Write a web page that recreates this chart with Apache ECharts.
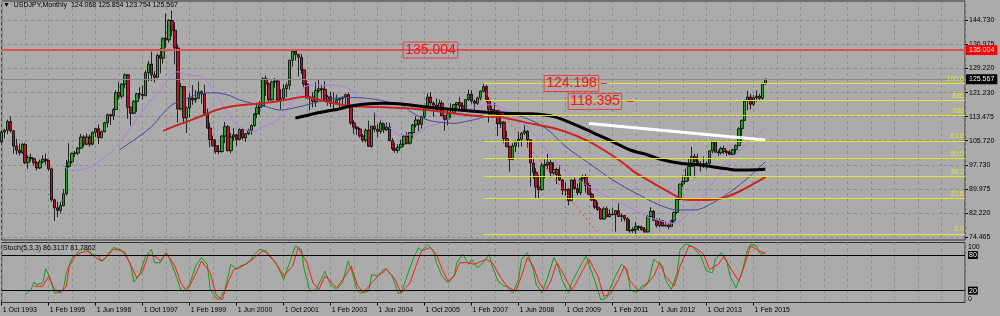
<!DOCTYPE html>
<html>
<head>
<meta charset="utf-8">
<script src="https://cdn.jsdelivr.net/npm/echarts@6/dist/echarts.min.js"></script>
<style>
html,body{margin:0;padding:0;background:#ababab;}
#chart{width:1000px;height:316px;}
</style>
</head>
<body>
<div id="chart"></div>
<script>
// ---- tick labels ----
const yTicks = [74.465, 82.220, 89.975, 97.730, 105.720, 113.475, 121.230, 129.220, 136.975, 144.730];
const monthNames = ['Jan','Feb','Mar','Apr','May','Jun','Jul','Aug','Sep','Oct','Nov','Dec'];
const firstYear = 1993, firstMonth = 9, slotCount = 329;

// ---- monthly candles [open, close, low, high] ----
const y1993 = [[105.3,108.5,105.0,109.0],[108.5,109.1,106.5,109.5],[109.1,111.9,107.8,112.5]];
const y1994 = [[111.9,108.9,108.3,113.6],[108.9,104.0,101.5,109.1],[104.0,102.6,101.2,106.3],[102.6,101.8,101.0,104.8],[101.8,104.5,101.5,105.0],[104.5,98.6,98.2,105.0],[98.6,100.3,96.6,101.0],[100.3,99.9,99.0,101.5],[99.9,98.6,97.8,100.2],[98.6,96.9,96.1,99.1],[96.9,98.9,96.5,99.6],[98.9,99.7,98.3,101.0]];
const y1995 = [[99.7,99.3,98.0,101.5],[99.3,96.6,96.0,99.6],[96.6,86.6,86.0,97.0],[86.6,84.0,79.75,87.0],[84.0,83.2,81.0,86.0],[83.2,84.7,82.2,86.0],[84.7,88.5,84.5,90.0],[88.5,97.4,88.0,99.5],[97.4,98.9,97.0,104.9],[98.9,101.6,98.3,101.9],[101.6,101.7,100.5,102.4],[101.7,103.3,101.0,103.6]];
const y1996 = [[103.3,106.9,103.0,107.9],[106.9,104.6,103.6,107.5],[104.6,106.9,104.2,108.0],[106.9,104.6,103.8,107.7],[104.6,108.4,104.2,108.7],[108.4,109.6,106.9,109.8],[109.6,106.7,104.6,111.0],[106.7,108.6,106.4,109.0],[108.6,111.5,108.4,111.8],[111.5,114.1,110.0,114.5],[114.1,113.7,110.8,114.4],[113.7,115.8,112.4,116.2]];
const y1997 = [[115.8,121.2,115.8,122.0],[121.2,120.1,119.0,124.7],[120.1,124.0,119.3,124.3],[124.0,127.0,122.6,127.5],[127.0,116.5,112.8,127.2],[116.5,114.6,110.6,116.7],[114.6,118.4,114.3,118.8],[118.4,120.9,115.0,121.2],[120.9,120.7,119.3,123.0],[120.7,120.3,119.0,123.6],[120.3,127.7,120.0,128.4],[127.7,130.5,124.9,131.5]];
const y1998 = [[130.5,127.0,125.0,134.5],[127.0,126.2,124.6,128.2],[126.2,133.3,125.9,133.9],[133.3,132.4,127.5,135.6],[132.4,138.8,130.6,139.0],[138.8,138.3,135.8,146.8],[138.3,144.6,137.4,145.0],[144.6,141.4,139.5,147.66],[141.4,135.7,130.4,144.0],[135.7,116.0,111.6,136.8],[116.0,123.2,115.4,124.3],[123.2,113.1,111.6,123.3]];
const y1999 = [[113.1,116.3,108.2,116.7],[116.3,119.5,113.3,121.0],[119.5,118.9,117.3,123.7],[118.9,119.4,117.9,122.1],[119.4,121.5,119.2,124.8],[121.5,120.8,117.7,122.0],[120.8,114.6,114.0,123.8],[114.6,109.8,109.6,116.1],[109.8,106.1,103.6,111.5],[106.1,104.1,103.8,107.3],[104.1,102.2,101.5,106.1],[102.3,102.2,101.3,104.3]];
const y2000 = [[102.2,107.2,101.8,107.5],[107.2,110.2,104.9,111.8],[110.2,102.5,102.2,110.8],[102.5,106.9,101.6,108.2],[106.9,107.6,105.6,109.8],[107.6,106.1,104.0,107.8],[106.1,109.3,105.8,109.7],[109.3,106.6,106.0,109.7],[106.6,108.0,105.3,108.2],[108.0,109.1,107.5,109.6],[109.1,110.6,107.7,111.0],[110.6,114.4,110.2,114.6]];
const y2001 = [[114.4,116.4,113.0,118.0],[116.4,117.0,114.0,118.6],[117.0,125.7,116.8,126.2],[125.7,124.1,120.2,126.8],[124.1,118.9,118.4,124.5],[118.9,124.7,118.7,125.1],[124.7,125.0,122.8,126.0],[125.0,118.8,118.4,125.3],[118.8,119.4,115.8,122.3],[119.4,122.5,119.0,124.0],[122.5,123.6,119.8,124.5],[123.6,131.7,122.2,131.8]];
const y2002 = [[131.7,134.7,129.7,135.2],[134.7,133.5,131.6,135.0],[133.5,132.7,126.5,133.9],[132.7,128.6,127.3,133.8],[128.6,124.0,123.0,128.7],[124.0,119.6,119.2,125.2],[119.6,119.8,115.5,120.1],[119.8,118.4,116.4,121.4],[118.4,121.9,116.6,124.6],[121.9,122.5,121.1,125.6],[122.5,122.3,119.2,123.8],[122.3,118.7,118.3,125.0]];
const y2003 = [[118.7,119.9,117.0,120.5],[119.9,117.8,116.5,121.5],[117.8,118.0,115.9,121.3],[118.0,119.0,117.6,120.6],[119.0,119.3,115.7,119.5],[119.3,119.8,116.6,120.0],[119.8,120.6,116.9,120.9],[120.6,116.9,116.5,121.3],[116.9,111.4,110.8,117.2],[111.4,110.1,107.9,112.3],[110.1,109.5,107.6,110.4],[109.5,107.2,106.7,109.9]];
const y2004 = [[107.2,105.9,105.2,107.9],[105.9,109.1,105.1,109.6],[109.1,103.9,103.8,112.2],[103.9,110.4,103.4,110.5],[110.4,109.4,108.5,114.9],[109.4,108.7,106.7,111.1],[108.7,111.4,107.9,112.2],[111.4,109.2,108.2,111.6],[109.2,110.1,108.8,111.6],[110.1,105.7,105.6,111.5],[105.7,103.1,102.4,106.6],[103.1,102.6,101.8,105.0]];
const y2005 = [[102.6,103.6,101.7,104.6],[103.6,104.6,103.2,106.0],[104.6,107.2,103.8,107.5],[107.2,104.9,104.5,108.5],[104.9,108.3,104.4,108.5],[108.3,110.8,106.4,111.2],[110.8,112.4,110.0,113.7],[112.4,111.0,108.8,112.5],[111.0,113.4,109.6,113.8],[113.4,116.4,112.9,116.5],[116.4,119.8,116.3,121.0],[119.8,117.9,115.9,121.4]];
const y2006 = [[117.9,117.2,113.4,118.4],[117.2,115.9,115.0,119.4],[115.9,117.8,115.6,119.0],[117.8,113.8,113.6,118.7],[113.8,112.6,108.9,114.1],[112.6,114.5,110.6,116.2],[114.5,114.6,113.0,117.8],[114.6,117.4,114.2,117.6],[117.4,118.0,115.5,118.2],[118.0,116.9,116.0,119.9],[116.9,115.8,115.1,118.1],[115.8,119.0,115.0,119.2]];
const y2007 = [[119.0,120.7,118.5,122.2],[120.7,118.5,117.7,122.0],[118.5,117.8,115.2,119.0],[117.8,119.5,117.2,120.0],[119.5,121.7,118.8,122.0],[121.7,123.2,121.3,124.2],[123.2,118.8,118.1,123.7],[118.8,115.8,111.6,119.8],[115.8,114.8,113.3,117.0],[114.8,115.4,113.9,117.9],[115.4,111.2,107.2,115.6],[111.2,111.7,109.8,114.7]];
const y2008 = [[111.7,106.4,104.9,112.0],[106.4,103.8,103.5,108.9],[103.8,99.7,95.7,104.0],[99.7,104.0,99.4,105.0],[104.0,105.5,102.0,105.7],[105.5,106.2,103.6,108.6],[106.2,108.1,103.8,108.5],[108.1,108.8,107.6,110.7],[108.8,106.0,103.5,109.0],[106.0,98.5,90.9,106.2],[98.5,95.5,93.4,100.0],[95.5,90.7,87.2,96.8]];
const y2009 = [[90.7,89.9,87.1,94.6],[89.9,97.6,89.5,98.6],[97.6,98.0,93.5,99.7],[98.0,98.6,96.4,101.4],[98.6,95.3,93.9,99.5],[95.3,96.4,94.5,98.8],[96.4,94.7,91.7,97.0],[94.7,93.0,92.7,97.8],[93.0,89.7,88.2,93.3],[89.7,90.0,88.0,92.2],[90.0,86.3,84.8,90.3],[86.3,93.0,86.2,93.1]];
const y2010 = [[93.0,90.2,89.9,93.8],[90.2,88.9,88.1,91.9],[88.9,93.4,88.1,93.6],[93.4,94.0,92.5,94.7],[94.0,91.2,88.9,94.9],[91.2,88.4,88.2,92.1],[88.4,86.5,86.2,88.9],[86.5,84.2,83.6,87.0],[84.2,83.5,82.9,85.9],[83.5,80.4,80.2,83.9],[80.4,83.7,80.2,84.4],[83.7,81.1,80.9,84.5]];
const y2011 = [[81.1,82.0,81.0,83.6],[82.0,81.8,81.5,84.0],[81.8,83.1,76.3,83.3],[83.1,81.2,81.0,85.5],[81.2,81.5,79.6,82.2],[81.5,80.5,79.6,81.6],[80.5,76.7,76.6,81.0],[76.7,76.6,75.9,80.2],[76.6,77.0,75.9,77.8],[77.0,78.0,75.56,79.5],[78.0,77.6,76.6,78.3],[77.6,76.9,76.6,78.2]];
const y2012 = [[76.9,76.2,76.0,77.8],[76.2,81.2,76.1,81.7],[81.2,82.9,80.9,84.2],[82.9,80.0,79.8,83.3],[80.0,78.3,77.6,80.6],[78.3,79.8,77.6,80.6],[79.8,78.1,77.8,80.0],[78.1,78.4,77.9,79.7],[78.4,77.9,77.1,79.0],[77.9,79.8,77.9,80.2],[79.8,82.5,79.1,82.8],[82.5,86.7,82.0,86.8]];
const y2013 = [[86.7,91.7,86.5,91.8],[91.7,92.5,90.8,94.5],[92.5,94.2,92.5,96.7],[94.2,97.4,92.6,99.9],[97.4,100.5,97.3,103.7],[100.5,99.1,93.8,101.5],[99.1,97.9,97.5,101.5],[97.9,98.2,95.8,99.1],[98.2,98.3,96.9,100.6],[98.3,98.4,96.6,99.0],[98.4,102.4,97.6,102.6],[102.4,105.3,101.6,105.4]];
const y2014 = [[105.3,102.0,101.8,105.4],[102.0,101.8,100.8,102.8],[101.8,103.2,101.2,103.8],[103.2,102.2,101.4,104.1],[102.2,101.8,100.8,102.8],[101.8,101.3,101.1,102.8],[101.3,102.8,101.1,103.1],[102.8,104.1,101.5,104.5],[104.1,109.6,104.0,110.1],[109.6,112.3,105.2,112.5],[112.3,118.6,112.1,119.0],[118.6,119.8,115.6,121.85]];
const y2015 = [[119.8,117.5,115.85,120.8],[117.5,119.6,116.9,120.5],[119.6,120.1,118.3,122.0],[120.1,119.4,118.5,120.8],[119.4,124.1,118.9,124.4],[124.068,125.567,123.754,125.854]];

// ---- moving averages [monthIndex, price] ----
const maPurple = [[20,98.4],[24,96.0],[29,96.8],[34,99.5],[39,103.8],[45,111.3],[49,116.7],[54,122.1],[58,127.0],[60,128.0],[63,127.0],[68,126.4],[72,122.1],[77,114.6],[81,110.2],[86,108.6],[89,110.2],[94,112.4],[98,116.7],[102,122.1],[105,123.7],[108,123.7],[113,123.7],[118,122.6],[122,118.9],[127,114.6],[131,110.8],[136,107.6],[140,107.6],[145,110.2],[149,111.3],[154,113.5],[158,115.6],[163,116.7],[167,117.5],[172,115.5],[178,111.3],[183,105.9],[190,97.3],[200,90.8],[211,85.5],[220,81.1],[229,79.0],[236,84.4],[242,91.9],[249,100.5],[260,109.7]];
const maBlue = [[40,102.7],[45,105.9],[51,110.2],[55,114.6],[58,117.3],[63,119.4],[68,121.0],[72,121.2],[77,120.5],[81,118.9],[86,117.6],[90,116.7],[95,115.6],[99,116.2],[104,117.3],[108,118.3],[113,119.4],[118,119.7],[122,119.6],[127,119.1],[131,118.3],[136,117.3],[140,114.6],[145,112.4],[149,111.7],[154,111.3],[158,111.9],[163,113.0],[170,115.1],[180,112.4],[186,109.2],[192,103.8],[200,98.4],[208,93.0],[216,88.7],[224,84.9],[230,83.3],[236,83.3],[242,85.5],[249,89.8],[254,93.6],[260,98.9]];
const maRed = [[55,108.9],[60,110.8],[64,112.2],[69,114.0],[73,115.6],[79,116.9],[86,117.6],[93,118.3],[98,119.1],[103,119.9],[106,119.4],[111,118.3],[118,116.9],[124,116.7],[131,116.5],[138,116.2],[145,115.6],[152,114.8],[158,114.0],[165,113.5],[170,113.3],[180,111.3],[186,110.2],[192,108.6],[199,105.9],[205,102.7],[211,98.9],[216,95.2],[222,91.9],[228,88.7],[232,86.8],[238,86.5],[245,87.1],[251,89.2],[260,93.9]];
const maBlack = [[100,113.0],[107,114.6],[113,115.6],[119,116.9],[124,117.6],[130,117.8],[136,117.6],[142,116.9],[149,116.2],[156,115.6],[163,115.1],[170,114.6],[180,114.4],[188,113.5],[197,110.2],[203,107.6],[208,105.4],[214,102.7],[220,101.1],[225,99.5],[231,98.4],[237,97.9],[242,97.3],[247,96.6],[251,96.2],[260,96.5]];
const whiteTrend = [[200,111.3],[260,105.9]];
const redTrend = [[165,121.0],[203,75.8]];

// ---- levels ----
const fibStart = 164;
const fibLevels = [124.198, 118.66, 113.79, 105.62, 99.88, 94.14, 87.04, 75.56];
const fibLabels = ['100.0', '886', '786', '61.8', '50.0', '38.2', '23.6', '0.0'];
const resistance = 135.004;
const lastPrice = 125.567;
const priceTags = [{name:'135.004', idx:146, price:135.004}, {name:'124.198', idx:194, price:124.198}, {name:'118.395', idx:202, price:118.395}];

// ---- stochastic (5,3,3) ----
const stochK = [[8,13.2],[10,21.7],[11,34.2],[12,30.2],[14,33.0],[15,56.8],[16,47.2],[18,16.0],[19,16.0],[21,21.7],[22,50.0],[24,75.5],[26,84.0],[27,89.6],[29,89.6],[31,81.1],[33,78.3],[34,69.8],[35,72.6],[37,86.8],[38,92.5],[40,89.6],[42,84.0],[44,61.3],[45,34.2],[47,47.2],[49,78.3],[51,89.6],[52,67.0],[54,67.0],[56,84.0],[57,75.5],[59,50.0],[61,21.7],[62,18.9],[64,30.2],[66,61.3],[68,75.5],[70,64.2],[71,21.7],[73,7.6],[74,4.7],[76,21.7],[78,64.2],[80,55.7],[81,61.3],[83,64.2],[85,72.6],[86,81.1],[88,89.6],[90,86.8],[91,78.3],[93,69.8],[95,50.0],[96,38.7],[98,67.0],[100,95.3],[102,89.6],[103,55.7],[105,18.9],[107,21.7],[109,41.5],[110,52.8],[112,30.2],[114,21.7],[116,33.0],[118,69.8],[119,55.7],[121,21.7],[122,16.0],[125,18.9],[126,47.2],[128,44.3],[130,55.7],[131,56.8],[133,44.3],[135,16.0],[136,16.0],[138,44.3],[140,72.6],[142,92.5],[143,86.8],[145,98.1],[147,86.8],[148,67.0],[150,44.3],[152,33.0],[154,44.3],[155,67.0],[157,81.1],[159,64.2],[160,72.6],[162,58.5],[164,67.0],[166,81.1],[167,61.3],[169,35.9],[171,27.4],[172,27.4],[174,16.0],[176,38.7],[177,72.6],[179,84.0],[181,55.7],[182,30.2],[184,16.0],[186,44.3],[188,75.5],[189,67.0],[191,35.9],[193,16.0],[194,33.0],[197,61.3],[199,78.3],[200,64.2],[202,35.9],[204,4.7],[206,7.6],[207,21.7],[209,44.3],[211,64.2],[213,55.7],[214,21.7],[216,16.0],[218,27.4],[220,33.0],[221,50.0],[222,72.6],[225,61.3],[226,38.7],[228,21.7],[230,50.0],[231,89.6],[233,98.1],[235,95.3],[236,89.6],[238,78.3],[240,52.8],[242,50.0],[243,72.6],[245,84.0],[247,67.0],[248,44.3],[250,24.5],[252,50.0],[254,89.6],[255,98.1],[257,95.3],[258,84.0],[259,81.1],[260,86.3]];
const stochD = [[11,27.4],[14,27.4],[16,44.3],[18,21.7],[20,16.0],[22,27.4],[23,61.3],[25,78.3],[27,84.0],[29,86.8],[32,75.5],[34,69.8],[36,78.3],[38,89.6],[41,86.8],[43,72.6],[46,41.5],[48,52.8],[50,81.1],[53,75.5],[54,69.8],[56,82.8],[59,61.3],[61,33.0],[63,18.9],[66,47.2],[68,69.8],[71,50.0],[73,13.2],[75,4.7],[77,33.0],[79,55.7],[81,58.5],[84,67.0],[86,75.5],[89,86.8],[91,81.1],[94,61.3],[96,44.3],[99,61.3],[101,92.5],[104,67.0],[106,33.0],[108,21.7],[110,44.3],[112,35.9],[114,24.5],[117,44.3],[119,61.3],[121,30.2],[123,16.0],[126,33.0],[128,44.3],[131,55.7],[134,38.7],[136,16.0],[139,33.0],[141,61.3],[143,86.8],[146,92.5],[148,81.1],[150,55.7],[152,35.9],[154,44.3],[156,67.0],[159,67.0],[161,64.2],[165,72.6],[167,67.0],[170,41.5],[172,27.4],[175,18.9],[177,44.3],[179,75.5],[181,61.3],[183,33.0],[185,18.9],[187,35.9],[189,67.0],[191,50.0],[194,21.7],[195,27.4],[198,55.7],[200,72.6],[203,44.3],[205,10.4],[207,13.2],[210,38.7],[212,61.3],[214,35.9],[217,18.9],[219,27.4],[222,44.3],[224,67.0],[226,44.3],[229,27.4],[231,61.3],[234,95.3],[236,92.5],[239,81.1],[241,55.7],[244,64.2],[246,78.3],[248,58.5],[251,35.9],[253,64.2],[255,95.3],[257,89.6],[260,81.8]];

// ---- build ----
const categories = [];
for (let i = 0; i < slotCount; i++) {
  const m = (firstMonth + i) % 12;
  const y = firstYear + Math.floor((firstMonth + i) / 12);
  categories.push('1 ' + monthNames[m] + ' ' + y);
}
const candles = [].concat(y1993, y1994, y1995, y1996, y1997, y1998, y1999, y2000, y2001, y2002, y2003, y2004, y2005, y2006, y2007, y2008, y2009, y2010, y2011, y2012, y2013, y2014, y2015);
const lastIdx = candles.length - 1;

const FONT = 'Liberation Sans, Arial, sans-serif';
const gridLine = {show: true, lineStyle: {color: '#8c8c8c', width: 1, type: [3, 3]}};
const vInterval = function (i) { return i % 8 === 0; };
const lInterval = function (i) { return i % 16 === 0 && i <= lastIdx; };

const fibMarks = fibLevels.map(function (lv, k) {
  return [
    {coord: [fibStart, lv], lineStyle: {color: '#e6e620', width: 1, type: 'solid'},
     label: {show: true, formatter: fibLabels[k], position: 'insideEndTop', color: '#e6e620', fontSize: 7, fontFamily: FONT, distance: 1}},
    {coord: [slotCount - 1, lv]}
  ];
});

const chart = echarts.init(document.getElementById('chart'), null, {renderer: 'canvas'});
chart.setOption({
  backgroundColor: '#ababab',
  animation: false,
  title: [
    {text: '\u25BC  USDJPY,Monthly  124.068 125.854 123.754 125.567', left: 3, top: 2, padding: 0,
     textStyle: {fontSize: 7, fontWeight: 'normal', color: '#000', fontFamily: FONT}},
    {text: 'Stoch(5,3,3) 86.3137 81.7862', left: 3, top: 245, padding: 0,
     textStyle: {fontSize: 7, fontWeight: 'normal', color: '#000', fontFamily: FONT}}
  ],
  grid: [
    {left: 1.7, right: 35, top: 1, height: 239, show: true, borderColor: '#333', borderWidth: 1, outerBoundsMode: 'none'},
    {left: 1.7, right: 35, top: 242.5, height: 60, show: true, borderColor: '#333', borderWidth: 1, outerBoundsMode: 'none'}
  ],
  xAxis: [
    {type: 'category', gridIndex: 0, data: categories, boundaryGap: false,
     axisLine: {show: false}, axisTick: {show: false}, axisLabel: {show: false},
     splitLine: Object.assign({interval: vInterval}, gridLine)},
    {type: 'category', gridIndex: 1, data: categories, boundaryGap: false,
     axisLine: {show: false},
     axisTick: {show: true, interval: lInterval, length: 3, lineStyle: {color: '#000'}},
     axisLabel: {show: true, interval: lInterval, align: 'left', fontSize: 7, color: '#000', fontFamily: FONT, margin: 4, padding: [0, 0, 0, 1]},
     splitLine: Object.assign({interval: vInterval}, gridLine)}
  ],
  yAxis: [
    {type: 'value', gridIndex: 0, position: 'right', min: 73.6, max: 150.87, scale: true,
     axisLine: {show: false},
     axisTick: {show: true, customValues: yTicks, length: 3, lineStyle: {color: '#000'}},
     axisLabel: {customValues: yTicks, formatter: function (v) { return v.toFixed(3); }, fontSize: 7, color: '#000', fontFamily: FONT, margin: 4},
     splitLine: gridLine},
    {type: 'value', gridIndex: 1, position: 'right', min: 0, max: 101,
     axisLine: {show: false}, axisTick: {show: false}, splitLine: {show: false},
     axisLabel: {customValues: [100, 80, 20, 0], margin: 3, fontSize: 7, fontFamily: FONT, color: '#000',
       formatter: function (v) { return v === 100 ? '{t|100}' : (v === 0 ? '{b|0}' : '{k|' + v + '}'); },
       rich: {
         t: {fontSize: 7, color: '#000', fontFamily: FONT, padding: [8, 0, 0, 0]},
         b: {fontSize: 7, color: '#000', fontFamily: FONT, padding: [0, 0, 7, 0]},
         k: {fontSize: 7, color: '#fff', fontFamily: FONT, backgroundColor: '#000', padding: [1, 1, 0, 1]}
       }}}
  ],
  series: [
    {type: 'candlestick', name: 'USDJPY', xAxisIndex: 0, yAxisIndex: 0, data: candles, barWidth: 3, z: 2,
     itemStyle: {color: '#22a322', color0: '#b8122c', borderColor: '#000', borderColor0: '#000', borderWidth: 0.8},
     markLine: {silent: true, symbol: ['none', 'none'], animation: false,
       data: fibMarks.concat([
         {yAxis: resistance, lineStyle: {color: '#e05050', width: 2, type: 'solid'},
          label: {show: true, position: 'end', formatter: '135.004', distance: 1, color: '#fff', backgroundColor: '#ff0000', fontSize: 7, fontFamily: FONT, padding: [2, 3, 1, 3]}},
         {yAxis: lastPrice, lineStyle: {color: '#8a8a8a', width: 1, type: 'solid'},
          label: {show: true, position: 'end', formatter: '125.567', distance: 1, color: '#fff', backgroundColor: '#000', fontSize: 7, fontFamily: FONT, padding: [2, 3, 1, 3]}},
         [{coord: [204, 124.198], lineStyle: {color: '#ff2020', width: 1, type: 'solid'}, label: {show: false}}, {coord: [206, 124.198]}],
         [{coord: [213, 118.395], lineStyle: {color: '#ff2020', width: 1, type: 'solid'}, label: {show: false}}, {coord: [215, 118.395]}]
       ])},
     markPoint: {silent: true, symbol: 'rect', symbolSize: 1, itemStyle: {color: 'rgba(0,0,0,0)'}, animation: false,
       label: {show: true, position: 'inside', formatter: function (p) { return p.name; },
         color: '#ff1010', fontSize: 14, fontFamily: FONT, lineHeight: 15,
         borderColor: '#e84040', borderWidth: 1, padding: [1, 2, 0, 2]},
       data: priceTags.map(function (t) { return {name: t.name, coord: [t.idx, t.price]}; })}
    },
    {type: 'line', name: 'MA fast', xAxisIndex: 0, yAxisIndex: 0, data: maPurple, smooth: 0.3, showSymbol: false, z: 3,
     lineStyle: {color: '#b577e6', width: 1}},
    {type: 'line', name: 'MA mid', xAxisIndex: 0, yAxisIndex: 0, data: maBlue, smooth: 0.3, showSymbol: false, z: 3,
     lineStyle: {color: '#46469c', width: 1}},
    {type: 'line', name: 'MA slow', xAxisIndex: 0, yAxisIndex: 0, data: maRed, smooth: 0.3, showSymbol: false, z: 3,
     lineStyle: {color: '#cc2222', width: 2}},
    {type: 'line', name: 'MA long', xAxisIndex: 0, yAxisIndex: 0, data: maBlack, smooth: 0.3, showSymbol: false, z: 4,
     lineStyle: {color: '#000', width: 3}},
    {type: 'line', name: 'trend white', xAxisIndex: 0, yAxisIndex: 0, data: whiteTrend, showSymbol: false, z: 4,
     lineStyle: {color: '#ffffff', width: 3}},
    {type: 'line', name: 'trend red', xAxisIndex: 0, yAxisIndex: 0, data: redTrend, showSymbol: false, z: 4,
     lineStyle: {color: '#ff3a3a', width: 1, type: [2, 3]}},
    {type: 'line', name: '%K', xAxisIndex: 1, yAxisIndex: 1, data: stochK, showSymbol: false, z: 3,
     lineStyle: {color: '#10a010', width: 1},
     markLine: {silent: true, symbol: ['none', 'none'], animation: false, label: {show: false},
       lineStyle: {color: '#000', width: 1, type: 'solid'}, data: [{yAxis: 80}, {yAxis: 20}]}},
    {type: 'line', name: '%D', xAxisIndex: 1, yAxisIndex: 1, data: stochD, showSymbol: false, z: 3,
     lineStyle: {color: '#ff1a1a', width: 1}}
  ]
});
</script>
</body>
</html>
